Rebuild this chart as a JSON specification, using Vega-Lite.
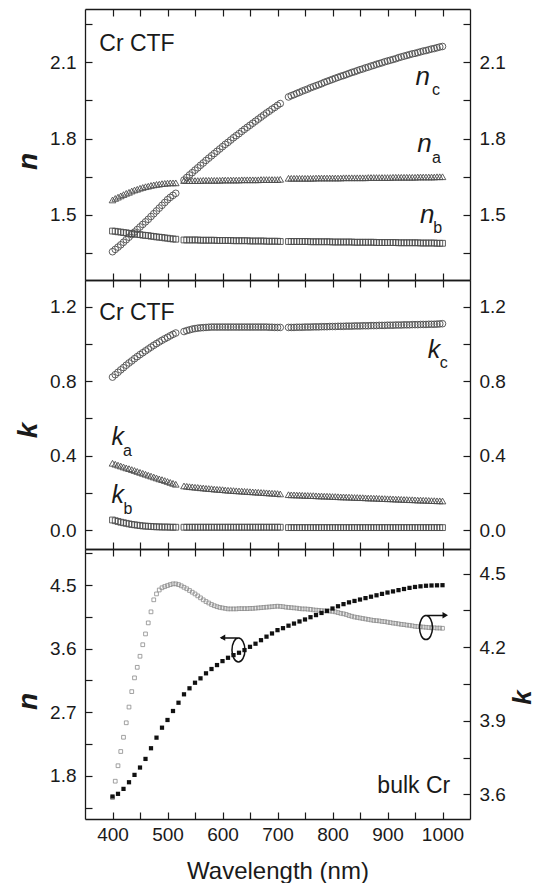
{
"$schema": "https://vega.github.io/schema/vega-lite/v6.json",
"background": "white",
"padding": {"left": 14, "top": 8, "right": 0, "bottom": 0},
"autosize": {"type": "pad"},
"spacing": 0,
"bounds": "flush",
"config": {
  "font": "Liberation Sans",
  "view": {"stroke": null},
  "axis": {"grid": false, "domainColor": "#1a1a1a", "domainWidth": 1.3, "tickColor": "#1a1a1a", "tickWidth": 1.2, "labelFont": "Liberation Sans", "labelFontSize": 19, "labelColor": "#1a1a1a", "labelOverlap": false, "labelFlush": false, "labelBound": false, "titleColor": "#1a1a1a", "titleFont": "Liberation Sans"},
  "text": {"font": "Liberation Sans", "color": "#1a1a1a"}
},
"datasets": {
"ctf": [
{"w":400,"nA":1.559,"nB":1.437,"nC":1.356,"kA":0.359,"kB":0.054,"kC":0.822},
{"w":405,"nA":1.565,"nB":1.436,"nC":1.365,"kA":0.354,"kB":0.050,"kC":0.835},
{"w":410,"nA":1.570,"nB":1.434,"nC":1.374,"kA":0.349,"kB":0.046,"kC":0.848},
{"w":415,"nA":1.575,"nB":1.433,"nC":1.383,"kA":0.344,"kB":0.042,"kC":0.861},
{"w":420,"nA":1.580,"nB":1.431,"nC":1.393,"kA":0.339,"kB":0.039,"kC":0.873},
{"w":425,"nA":1.585,"nB":1.430,"nC":1.403,"kA":0.334,"kB":0.036,"kC":0.886},
{"w":430,"nA":1.589,"nB":1.428,"nC":1.413,"kA":0.330,"kB":0.033,"kC":0.898},
{"w":435,"nA":1.594,"nB":1.427,"nC":1.423,"kA":0.325,"kB":0.030,"kC":0.909},
{"w":440,"nA":1.598,"nB":1.426,"nC":1.433,"kA":0.320,"kB":0.028,"kC":0.921},
{"w":445,"nA":1.601,"nB":1.424,"nC":1.443,"kA":0.315,"kB":0.026,"kC":0.932},
{"w":450,"nA":1.605,"nB":1.423,"nC":1.453,"kA":0.310,"kB":0.024,"kC":0.943},
{"w":455,"nA":1.608,"nB":1.421,"nC":1.463,"kA":0.305,"kB":0.022,"kC":0.953},
{"w":460,"nA":1.611,"nB":1.420,"nC":1.473,"kA":0.300,"kB":0.021,"kC":0.963},
{"w":465,"nA":1.613,"nB":1.419,"nC":1.483,"kA":0.295,"kB":0.020,"kC":0.973},
{"w":470,"nA":1.616,"nB":1.417,"nC":1.494,"kA":0.290,"kB":0.019,"kC":0.983},
{"w":475,"nA":1.618,"nB":1.416,"nC":1.505,"kA":0.285,"kB":0.018,"kC":0.993},
{"w":480,"nA":1.620,"nB":1.414,"nC":1.516,"kA":0.280,"kB":0.017,"kC":1.002},
{"w":485,"nA":1.621,"nB":1.413,"nC":1.527,"kA":0.275,"kB":0.017,"kC":1.011},
{"w":490,"nA":1.623,"nB":1.412,"nC":1.538,"kA":0.271,"kB":0.016,"kC":1.020},
{"w":495,"nA":1.624,"nB":1.410,"nC":1.549,"kA":0.266,"kB":0.016,"kC":1.028},
{"w":500,"nA":1.625,"nB":1.409,"nC":1.560,"kA":0.261,"kB":0.016,"kC":1.036},
{"w":505,"nA":1.626,"nB":1.407,"nC":1.569,"kA":0.256,"kB":0.015,"kC":1.044},
{"w":510,"nA":1.626,"nB":1.406,"nC":1.577,"kA":0.251,"kB":0.015,"kC":1.052},
{"w":515,"nA":1.626,"nB":1.405,"nC":1.585,"kA":0.246,"kB":0.015,"kC":1.059},
{"w":530,"nA":1.635,"nB":1.402,"nC":1.637,"kA":0.237,"kB":0.015,"kC":1.067},
{"w":535,"nA":1.635,"nB":1.402,"nC":1.647,"kA":0.235,"kB":0.015,"kC":1.072},
{"w":540,"nA":1.635,"nB":1.402,"nC":1.657,"kA":0.233,"kB":0.015,"kC":1.076},
{"w":545,"nA":1.635,"nB":1.402,"nC":1.666,"kA":0.232,"kB":0.015,"kC":1.080},
{"w":550,"nA":1.635,"nB":1.402,"nC":1.676,"kA":0.230,"kB":0.015,"kC":1.083},
{"w":555,"nA":1.635,"nB":1.402,"nC":1.685,"kA":0.229,"kB":0.015,"kC":1.085},
{"w":560,"nA":1.635,"nB":1.401,"nC":1.695,"kA":0.227,"kB":0.015,"kC":1.087},
{"w":565,"nA":1.636,"nB":1.401,"nC":1.704,"kA":0.226,"kB":0.015,"kC":1.088},
{"w":570,"nA":1.636,"nB":1.401,"nC":1.714,"kA":0.224,"kB":0.015,"kC":1.089},
{"w":575,"nA":1.636,"nB":1.401,"nC":1.723,"kA":0.223,"kB":0.015,"kC":1.090},
{"w":580,"nA":1.636,"nB":1.401,"nC":1.732,"kA":0.222,"kB":0.015,"kC":1.091},
{"w":585,"nA":1.636,"nB":1.401,"nC":1.741,"kA":0.220,"kB":0.015,"kC":1.091},
{"w":590,"nA":1.636,"nB":1.400,"nC":1.750,"kA":0.219,"kB":0.015,"kC":1.091},
{"w":595,"nA":1.636,"nB":1.400,"nC":1.759,"kA":0.218,"kB":0.015,"kC":1.091},
{"w":600,"nA":1.637,"nB":1.400,"nC":1.768,"kA":0.217,"kB":0.015,"kC":1.091},
{"w":605,"nA":1.637,"nB":1.400,"nC":1.777,"kA":0.215,"kB":0.015,"kC":1.091},
{"w":610,"nA":1.637,"nB":1.400,"nC":1.785,"kA":0.214,"kB":0.015,"kC":1.091},
{"w":615,"nA":1.637,"nB":1.400,"nC":1.794,"kA":0.213,"kB":0.015,"kC":1.091},
{"w":620,"nA":1.637,"nB":1.399,"nC":1.803,"kA":0.212,"kB":0.015,"kC":1.091},
{"w":625,"nA":1.637,"nB":1.399,"nC":1.811,"kA":0.211,"kB":0.015,"kC":1.091},
{"w":630,"nA":1.637,"nB":1.399,"nC":1.819,"kA":0.210,"kB":0.015,"kC":1.091},
{"w":635,"nA":1.638,"nB":1.399,"nC":1.828,"kA":0.209,"kB":0.015,"kC":1.091},
{"w":640,"nA":1.638,"nB":1.399,"nC":1.836,"kA":0.208,"kB":0.015,"kC":1.091},
{"w":645,"nA":1.638,"nB":1.399,"nC":1.844,"kA":0.207,"kB":0.015,"kC":1.091},
{"w":650,"nA":1.638,"nB":1.398,"nC":1.852,"kA":0.206,"kB":0.015,"kC":1.091},
{"w":655,"nA":1.638,"nB":1.398,"nC":1.860,"kA":0.205,"kB":0.015,"kC":1.091},
{"w":660,"nA":1.638,"nB":1.398,"nC":1.868,"kA":0.204,"kB":0.015,"kC":1.091},
{"w":665,"nA":1.638,"nB":1.398,"nC":1.876,"kA":0.203,"kB":0.015,"kC":1.091},
{"w":670,"nA":1.639,"nB":1.398,"nC":1.884,"kA":0.202,"kB":0.015,"kC":1.091},
{"w":675,"nA":1.639,"nB":1.398,"nC":1.892,"kA":0.201,"kB":0.015,"kC":1.091},
{"w":680,"nA":1.639,"nB":1.397,"nC":1.900,"kA":0.200,"kB":0.015,"kC":1.091},
{"w":685,"nA":1.639,"nB":1.397,"nC":1.907,"kA":0.199,"kB":0.015,"kC":1.090},
{"w":690,"nA":1.639,"nB":1.397,"nC":1.915,"kA":0.198,"kB":0.015,"kC":1.090},
{"w":695,"nA":1.639,"nB":1.397,"nC":1.922,"kA":0.197,"kB":0.015,"kC":1.089},
{"w":700,"nA":1.639,"nB":1.397,"nC":1.930,"kA":0.196,"kB":0.015,"kC":1.089},
{"w":705,"nA":1.640,"nB":1.396,"nC":1.937,"kA":0.194,"kB":0.015,"kC":1.089},
{"w":720,"nA":1.644,"nB":1.396,"nC":1.963,"kA":0.190,"kB":0.013,"kC":1.089},
{"w":725,"nA":1.644,"nB":1.396,"nC":1.968,"kA":0.189,"kB":0.013,"kC":1.089},
{"w":730,"nA":1.644,"nB":1.396,"nC":1.972,"kA":0.189,"kB":0.013,"kC":1.089},
{"w":735,"nA":1.644,"nB":1.396,"nC":1.977,"kA":0.188,"kB":0.013,"kC":1.090},
{"w":740,"nA":1.644,"nB":1.396,"nC":1.981,"kA":0.188,"kB":0.013,"kC":1.090},
{"w":745,"nA":1.644,"nB":1.396,"nC":1.986,"kA":0.187,"kB":0.013,"kC":1.090},
{"w":750,"nA":1.644,"nB":1.396,"nC":1.990,"kA":0.186,"kB":0.013,"kC":1.091},
{"w":755,"nA":1.644,"nB":1.396,"nC":1.994,"kA":0.186,"kB":0.013,"kC":1.091},
{"w":760,"nA":1.644,"nB":1.395,"nC":1.999,"kA":0.185,"kB":0.013,"kC":1.091},
{"w":765,"nA":1.644,"nB":1.395,"nC":2.003,"kA":0.185,"kB":0.013,"kC":1.092},
{"w":770,"nA":1.645,"nB":1.395,"nC":2.007,"kA":0.184,"kB":0.013,"kC":1.092},
{"w":775,"nA":1.645,"nB":1.395,"nC":2.011,"kA":0.183,"kB":0.013,"kC":1.092},
{"w":780,"nA":1.645,"nB":1.395,"nC":2.015,"kA":0.183,"kB":0.013,"kC":1.093},
{"w":785,"nA":1.645,"nB":1.395,"nC":2.020,"kA":0.182,"kB":0.013,"kC":1.093},
{"w":790,"nA":1.645,"nB":1.395,"nC":2.024,"kA":0.182,"kB":0.013,"kC":1.093},
{"w":795,"nA":1.645,"nB":1.395,"nC":2.028,"kA":0.181,"kB":0.013,"kC":1.094},
{"w":800,"nA":1.645,"nB":1.394,"nC":2.032,"kA":0.180,"kB":0.013,"kC":1.094},
{"w":805,"nA":1.645,"nB":1.394,"nC":2.036,"kA":0.180,"kB":0.013,"kC":1.094},
{"w":810,"nA":1.645,"nB":1.394,"nC":2.040,"kA":0.179,"kB":0.013,"kC":1.095},
{"w":815,"nA":1.645,"nB":1.394,"nC":2.044,"kA":0.178,"kB":0.013,"kC":1.095},
{"w":820,"nA":1.646,"nB":1.394,"nC":2.047,"kA":0.178,"kB":0.013,"kC":1.095},
{"w":825,"nA":1.646,"nB":1.394,"nC":2.051,"kA":0.177,"kB":0.013,"kC":1.096},
{"w":830,"nA":1.646,"nB":1.394,"nC":2.055,"kA":0.177,"kB":0.013,"kC":1.096},
{"w":835,"nA":1.646,"nB":1.394,"nC":2.059,"kA":0.176,"kB":0.013,"kC":1.096},
{"w":840,"nA":1.646,"nB":1.393,"nC":2.062,"kA":0.175,"kB":0.013,"kC":1.097},
{"w":845,"nA":1.646,"nB":1.393,"nC":2.066,"kA":0.175,"kB":0.013,"kC":1.097},
{"w":850,"nA":1.646,"nB":1.393,"nC":2.070,"kA":0.174,"kB":0.013,"kC":1.097},
{"w":855,"nA":1.646,"nB":1.393,"nC":2.073,"kA":0.174,"kB":0.013,"kC":1.098},
{"w":860,"nA":1.646,"nB":1.393,"nC":2.077,"kA":0.173,"kB":0.013,"kC":1.098},
{"w":865,"nA":1.647,"nB":1.393,"nC":2.080,"kA":0.172,"kB":0.013,"kC":1.098},
{"w":870,"nA":1.647,"nB":1.393,"nC":2.084,"kA":0.172,"kB":0.013,"kC":1.099},
{"w":875,"nA":1.647,"nB":1.393,"nC":2.087,"kA":0.171,"kB":0.013,"kC":1.099},
{"w":880,"nA":1.647,"nB":1.392,"nC":2.091,"kA":0.171,"kB":0.013,"kC":1.099},
{"w":885,"nA":1.647,"nB":1.392,"nC":2.094,"kA":0.170,"kB":0.013,"kC":1.100},
{"w":890,"nA":1.647,"nB":1.392,"nC":2.097,"kA":0.169,"kB":0.013,"kC":1.100},
{"w":895,"nA":1.647,"nB":1.392,"nC":2.101,"kA":0.169,"kB":0.013,"kC":1.100},
{"w":900,"nA":1.647,"nB":1.392,"nC":2.104,"kA":0.168,"kB":0.013,"kC":1.101},
{"w":905,"nA":1.647,"nB":1.392,"nC":2.107,"kA":0.168,"kB":0.013,"kC":1.101},
{"w":910,"nA":1.648,"nB":1.392,"nC":2.110,"kA":0.167,"kB":0.013,"kC":1.101},
{"w":915,"nA":1.648,"nB":1.392,"nC":2.113,"kA":0.166,"kB":0.013,"kC":1.102},
{"w":920,"nA":1.648,"nB":1.391,"nC":2.117,"kA":0.166,"kB":0.013,"kC":1.102},
{"w":925,"nA":1.648,"nB":1.391,"nC":2.120,"kA":0.165,"kB":0.013,"kC":1.102},
{"w":930,"nA":1.648,"nB":1.391,"nC":2.123,"kA":0.164,"kB":0.013,"kC":1.103},
{"w":935,"nA":1.648,"nB":1.391,"nC":2.126,"kA":0.164,"kB":0.013,"kC":1.103},
{"w":940,"nA":1.648,"nB":1.391,"nC":2.129,"kA":0.163,"kB":0.013,"kC":1.103},
{"w":945,"nA":1.648,"nB":1.391,"nC":2.132,"kA":0.163,"kB":0.013,"kC":1.104},
{"w":950,"nA":1.648,"nB":1.391,"nC":2.134,"kA":0.162,"kB":0.013,"kC":1.104},
{"w":955,"nA":1.649,"nB":1.391,"nC":2.137,"kA":0.161,"kB":0.013,"kC":1.104},
{"w":960,"nA":1.649,"nB":1.390,"nC":2.140,"kA":0.161,"kB":0.013,"kC":1.105},
{"w":965,"nA":1.649,"nB":1.390,"nC":2.143,"kA":0.160,"kB":0.013,"kC":1.105},
{"w":970,"nA":1.649,"nB":1.390,"nC":2.145,"kA":0.160,"kB":0.013,"kC":1.105},
{"w":975,"nA":1.649,"nB":1.390,"nC":2.148,"kA":0.159,"kB":0.013,"kC":1.106},
{"w":980,"nA":1.649,"nB":1.390,"nC":2.151,"kA":0.158,"kB":0.013,"kC":1.106},
{"w":985,"nA":1.649,"nB":1.390,"nC":2.153,"kA":0.158,"kB":0.013,"kC":1.106},
{"w":990,"nA":1.650,"nB":1.389,"nC":2.156,"kA":0.157,"kB":0.013,"kC":1.107},
{"w":995,"nA":1.650,"nB":1.389,"nC":2.159,"kA":0.157,"kB":0.013,"kC":1.108},
{"w":1000,"nA":1.650,"nB":1.389,"nC":2.161,"kA":0.156,"kB":0.013,"kC":1.109}
],
"bulk": [
{"w":400,"n":1.508,"k":3.587},{"w":405,"k":3.654},{"w":410,"n":1.546,"k":3.717},{"w":415,"k":3.775},{"w":420,"n":1.616,"k":3.833},{"w":425,"k":3.892},{"w":430,"n":1.71,"k":3.956},{"w":435,"k":4.019},{"w":440,"n":1.814,"k":4.075},{"w":445,"k":4.118},{"w":450,"n":1.918,"k":4.163},{"w":455,"k":4.21},{"w":460,"n":2.04,"k":4.254},{"w":465,"k":4.299},{"w":470,"n":2.191,"k":4.344},{"w":475,"k":4.393},{"w":480,"n":2.341,"k":4.417},{"w":485,"k":4.433},{"w":490,"n":2.482,"k":4.442},{"w":495,"k":4.447},{"w":500,"n":2.591,"k":4.451},{"w":505,"k":4.455},{"w":510,"n":2.718,"k":4.458},{"w":515,"k":4.458},{"w":520,"n":2.835,"k":4.455},{"w":525,"k":4.45},{"w":530,"n":2.954,"k":4.444},{"w":535,"k":4.438},{"w":540,"n":3.039,"k":4.431},{"w":545,"k":4.424},{"w":550,"n":3.118,"k":4.417},{"w":555,"k":4.409},{"w":560,"n":3.18,"k":4.401},{"w":565,"k":4.393},{"w":570,"n":3.251,"k":4.386},{"w":575,"k":4.38},{"w":580,"n":3.312,"k":4.374},{"w":585,"k":4.369},{"w":590,"n":3.368,"k":4.365},{"w":595,"k":4.362},{"w":600,"n":3.424,"k":4.36},{"w":605,"k":4.358},{"w":610,"n":3.471,"k":4.356},{"w":615,"k":4.356},{"w":620,"n":3.509,"k":4.356},{"w":625,"k":4.356},{"w":630,"n":3.542,"k":4.357},{"w":635,"k":4.357},{"w":640,"n":3.58,"k":4.357},{"w":645,"k":4.357},{"w":650,"n":3.626,"k":4.358},{"w":655,"k":4.358},{"w":660,"n":3.67,"k":4.359},{"w":665,"k":4.36},{"w":670,"n":3.72,"k":4.361},{"w":675,"k":4.362},{"w":680,"n":3.77,"k":4.363},{"w":685,"k":4.364},{"w":690,"n":3.815,"k":4.365},{"w":695,"k":4.366},{"w":700,"n":3.862,"k":4.367},{"w":705,"k":4.366},{"w":710,"n":3.89,"k":4.365},{"w":715,"k":4.363},{"w":720,"n":3.925,"k":4.362},{"w":725,"k":4.361},{"w":730,"n":3.955,"k":4.36},{"w":735,"k":4.359},{"w":740,"n":3.985,"k":4.357},{"w":745,"k":4.356},{"w":750,"n":4.013,"k":4.356},{"w":755,"k":4.355},{"w":760,"n":4.045,"k":4.354},{"w":765,"k":4.352},{"w":770,"n":4.075,"k":4.351},{"w":775,"k":4.35},{"w":780,"n":4.105,"k":4.349},{"w":785,"k":4.348},{"w":790,"n":4.135,"k":4.347},{"w":795,"k":4.347},{"w":800,"n":4.168,"k":4.346},{"w":805,"k":4.344},{"w":810,"n":4.2,"k":4.341},{"w":815,"k":4.338},{"w":820,"n":4.23,"k":4.336},{"w":825,"k":4.333},{"w":830,"n":4.255,"k":4.329},{"w":835,"k":4.326},{"w":840,"n":4.275,"k":4.323},{"w":845,"k":4.321},{"w":850,"n":4.295,"k":4.319},{"w":855,"k":4.317},{"w":860,"n":4.315,"k":4.315},{"w":865,"k":4.313},{"w":870,"n":4.335,"k":4.311},{"w":875,"k":4.309},{"w":880,"n":4.355,"k":4.308},{"w":885,"k":4.307},{"w":890,"n":4.375,"k":4.305},{"w":895,"k":4.304},{"w":900,"n":4.394,"k":4.302},{"w":905,"k":4.3},{"w":910,"n":4.41,"k":4.298},{"w":915,"k":4.297},{"w":920,"n":4.428,"k":4.295},{"w":925,"k":4.293},{"w":930,"n":4.444,"k":4.292},{"w":935,"k":4.29},{"w":940,"n":4.46,"k":4.289},{"w":945,"k":4.287},{"w":950,"n":4.473,"k":4.285},{"w":955,"k":4.284},{"w":960,"n":4.482,"k":4.283},{"w":965,"k":4.282},{"w":970,"n":4.49,"k":4.281},{"w":975,"k":4.28},{"w":980,"n":4.494,"k":4.279},{"w":985,"k":4.279},{"w":990,"n":4.496,"k":4.278},{"w":995,"k":4.278},{"w":1000,"n":4.498,"k":4.277}
]
},
"vconcat": [
{
  "width": 385, "height": 271,
  "resolve": {"axis": {"x": "independent", "y": "independent"}},
  "layer": [
    {"data": {"name": "ctf"},
     "mark": {"type": "point", "shape": "circle", "filled": false, "stroke": "#4d4d4d", "strokeWidth": 0.9, "size": 44, "opacity": 1},
     "encoding": {
       "x": {"field": "w", "type": "quantitative", "scale": {"domain": [350, 1050], "nice": false, "zero": false},
             "axis": {"orient": "bottom", "values": [400,450,500,550,600,650,700,750,800,850,900,950,1000], "labels": false, "title": null, "tickSize": -7,
                      "encoding": {"ticks": {"update": {"y2": {"signal": "datum.value % 100 === 0 ? -7 : -3.5"}}}}}},
       "y": {"field": "nC", "type": "quantitative", "scale": {"domain": [1.245, 2.308], "nice": false, "zero": false},
             "axis": {"orient": "left", "values": [1.35,1.5,1.65,1.8,1.95,2.1,2.25], "tickSize": -7, "labelPadding": 16,
                      "labelExpr": "round(datum.value*100) % 30 === 0 ? format(datum.value, '.1f') : ''",
                      "title": "n", "titleFontSize": 28, "titleFontWeight": "bold", "titleFontStyle": "italic", "titleAngle": -90, "titlePadding": 7, "titleY": 152,
                      "encoding": {"ticks": {"update": {"x2": {"signal": "round(datum.value*100) % 30 === 0 ? 7 : 3.5"}}}}}}
     }},
    {"data": {"name": "ctf"},
     "mark": {"type": "point", "shape": "triangle-up", "filled": false, "stroke": "#4d4d4d", "strokeWidth": 0.9, "size": 44, "opacity": 1},
     "encoding": {
       "x": {"field": "w", "type": "quantitative", "scale": {"domain": [350, 1050], "nice": false, "zero": false},
             "axis": {"orient": "top", "values": [400,450,500,550,600,650,700,750,800,850,900,950,1000], "labels": false, "title": null, "tickSize": -7,
                      "encoding": {"ticks": {"update": {"y2": {"signal": "datum.value % 100 === 0 ? 7 : 3.5"}}}}}},
       "y": {"field": "nA", "type": "quantitative", "scale": {"domain": [1.245, 2.308], "nice": false, "zero": false},
             "axis": {"orient": "right", "values": [1.35,1.5,1.65,1.8,1.95,2.1,2.25], "tickSize": -7, "labelPadding": 16, "title": null,
                      "labelExpr": "round(datum.value*100) % 30 === 0 ? format(datum.value, '.1f') : ''",
                      "encoding": {"ticks": {"update": {"x2": {"signal": "round(datum.value*100) % 30 === 0 ? -7 : -3.5"}}}}}}
     }},
    {"data": {"name": "ctf"},
     "mark": {"type": "point", "shape": "square", "filled": false, "stroke": "#4d4d4d", "strokeWidth": 0.9, "size": 34, "opacity": 1},
     "encoding": {
       "x": {"field": "w", "type": "quantitative", "scale": {"domain": [350, 1050], "nice": false, "zero": false}, "axis": null},
       "y": {"field": "nB", "type": "quantitative", "scale": {"domain": [1.245, 2.308], "nice": false, "zero": false}, "axis": null}
     }},
    {"data": {"values": [{"w": 376, "v": 2.144, "t": "Cr CTF"}]},
     "mark": {"type": "text", "align": "left", "baseline": "alphabetic", "fontSize": 23},
     "encoding": {
       "x": {"field": "w", "type": "quantitative", "scale": {"domain": [350, 1050], "nice": false, "zero": false}, "axis": null},
       "y": {"field": "v", "type": "quantitative", "scale": {"domain": [1.245, 2.308], "nice": false, "zero": false}, "axis": null},
       "text": {"field": "t"}
     }},
    {"data": {"values": [{"w": 951, "v": 2.010, "t": "n"}, {"w": 954, "v": 1.748, "t": "n"}, {"w": 959, "v": 1.470, "t": "n"}]},
     "mark": {"type": "text", "align": "left", "baseline": "alphabetic", "fontSize": 26, "fontStyle": "italic"},
     "encoding": {
       "x": {"field": "w", "type": "quantitative", "scale": {"domain": [350, 1050], "nice": false, "zero": false}, "axis": null},
       "y": {"field": "v", "type": "quantitative", "scale": {"domain": [1.245, 2.308], "nice": false, "zero": false}, "axis": null},
       "text": {"field": "t"}
     }},
    {"data": {"values": [{"w": 981, "v": 1.971, "t": "c"}, {"w": 981, "v": 1.705, "t": "a"}, {"w": 983, "v": 1.431, "t": "b"}]},
     "mark": {"type": "text", "align": "left", "baseline": "alphabetic", "fontSize": 16},
     "encoding": {
       "x": {"field": "w", "type": "quantitative", "scale": {"domain": [350, 1050], "nice": false, "zero": false}, "axis": null},
       "y": {"field": "v", "type": "quantitative", "scale": {"domain": [1.245, 2.308], "nice": false, "zero": false}, "axis": null},
       "text": {"field": "t"}
     }}
  ]
},
{
  "width": 385, "height": 269,
  "resolve": {"axis": {"x": "independent", "y": "independent"}},
  "layer": [
    {"data": {"name": "ctf"},
     "mark": {"type": "point", "shape": "circle", "filled": false, "stroke": "#4d4d4d", "strokeWidth": 0.9, "size": 44, "opacity": 1},
     "encoding": {
       "x": {"field": "w", "type": "quantitative", "scale": {"domain": [350, 1050], "nice": false, "zero": false},
             "axis": {"orient": "bottom", "values": [400,450,500,550,600,650,700,750,800,850,900,950,1000], "labels": false, "title": null, "tickSize": -7,
                      "encoding": {"ticks": {"update": {"y2": {"signal": "datum.value % 100 === 0 ? -7 : -3.5"}}}}}},
       "y": {"field": "kC", "type": "quantitative", "scale": {"domain": [-0.102, 1.344], "nice": false, "zero": false},
             "axis": {"orient": "left", "values": [0,0.2,0.4,0.6,0.8,1.0,1.2], "tickSize": -7, "labelPadding": 16,
                      "labelExpr": "round(datum.value*10) % 4 === 0 ? format(datum.value, '.1f') : ''",
                      "title": "k", "titleFontSize": 28, "titleFontWeight": "bold", "titleFontStyle": "italic", "titleAngle": -90, "titlePadding": 7, "titleY": 150,
                      "encoding": {"ticks": {"update": {"x2": {"signal": "round(datum.value*10) % 4 === 0 ? 7 : 3.5"}}}}}}
     }},
    {"data": {"name": "ctf"},
     "mark": {"type": "point", "shape": "triangle-up", "filled": false, "stroke": "#4d4d4d", "strokeWidth": 0.9, "size": 44, "opacity": 1},
     "encoding": {
       "x": {"field": "w", "type": "quantitative", "scale": {"domain": [350, 1050], "nice": false, "zero": false},
             "axis": {"orient": "top", "values": [400,450,500,550,600,650,700,750,800,850,900,950,1000], "labels": false, "title": null, "tickSize": -7,
                      "encoding": {"ticks": {"update": {"y2": {"signal": "datum.value % 100 === 0 ? 7 : 3.5"}}}}}},
       "y": {"field": "kA", "type": "quantitative", "scale": {"domain": [-0.102, 1.344], "nice": false, "zero": false},
             "axis": {"orient": "right", "values": [0,0.2,0.4,0.6,0.8,1.0,1.2], "tickSize": -7, "labelPadding": 16, "title": null,
                      "labelExpr": "round(datum.value*10) % 4 === 0 ? format(datum.value, '.1f') : ''",
                      "encoding": {"ticks": {"update": {"x2": {"signal": "round(datum.value*10) % 4 === 0 ? -7 : -3.5"}}}}}}
     }},
    {"data": {"name": "ctf"},
     "mark": {"type": "point", "shape": "square", "filled": false, "stroke": "#4d4d4d", "strokeWidth": 0.9, "size": 34, "opacity": 1},
     "encoding": {
       "x": {"field": "w", "type": "quantitative", "scale": {"domain": [350, 1050], "nice": false, "zero": false}, "axis": null},
       "y": {"field": "kB", "type": "quantitative", "scale": {"domain": [-0.102, 1.344], "nice": false, "zero": false}, "axis": null}
     }},
    {"data": {"values": [{"w": 376, "v": 1.129, "t": "Cr CTF"}]},
     "mark": {"type": "text", "align": "left", "baseline": "alphabetic", "fontSize": 23},
     "encoding": {
       "x": {"field": "w", "type": "quantitative", "scale": {"domain": [350, 1050], "nice": false, "zero": false}, "axis": null},
       "y": {"field": "v", "type": "quantitative", "scale": {"domain": [-0.102, 1.344], "nice": false, "zero": false}, "axis": null},
       "text": {"field": "t"}
     }},
    {"data": {"values": [{"w": 973, "v": 0.923, "t": "k"}, {"w": 398, "v": 0.457, "t": "k"}, {"w": 398, "v": 0.143, "t": "k"}]},
     "mark": {"type": "text", "align": "left", "baseline": "alphabetic", "fontSize": 25, "fontStyle": "italic"},
     "encoding": {
       "x": {"field": "w", "type": "quantitative", "scale": {"domain": [350, 1050], "nice": false, "zero": false}, "axis": null},
       "y": {"field": "v", "type": "quantitative", "scale": {"domain": [-0.102, 1.344], "nice": false, "zero": false}, "axis": null},
       "text": {"field": "t"}
     }},
    {"data": {"values": [{"w": 995, "v": 0.869, "t": "c"}, {"w": 419, "v": 0.400, "t": "a"}, {"w": 420, "v": 0.086, "t": "b"}]},
     "mark": {"type": "text", "align": "left", "baseline": "alphabetic", "fontSize": 16},
     "encoding": {
       "x": {"field": "w", "type": "quantitative", "scale": {"domain": [350, 1050], "nice": false, "zero": false}, "axis": null},
       "y": {"field": "v", "type": "quantitative", "scale": {"domain": [-0.102, 1.344], "nice": false, "zero": false}, "axis": null},
       "text": {"field": "t"}
     }}
  ]
},
{
  "width": 385, "height": 270,
  "resolve": {"scale": {"y": "independent"}, "axis": {"x": "independent", "y": "independent"}},
  "layer": [
    {"data": {"name": "bulk"},
     "mark": {"type": "point", "shape": "square", "filled": false, "stroke": "#8a8a8a", "strokeWidth": 0.8, "size": 14, "opacity": 1},
     "encoding": {
       "x": {"field": "w", "type": "quantitative", "scale": {"domain": [350, 1050], "nice": false, "zero": false},
             "axis": {"orient": "top", "values": [400,450,500,550,600,650,700,750,800,850,900,950,1000], "labels": false, "title": null, "tickSize": -7,
                      "encoding": {"ticks": {"update": {"y2": {"signal": "datum.value % 100 === 0 ? 7 : 3.5"}}}}}},
       "y": {"field": "k", "type": "quantitative", "scale": {"domain": [3.5, 4.6], "nice": false, "zero": false},
             "axis": {"orient": "right", "values": [3.6,3.75,3.9,4.05,4.2,4.35,4.5], "tickSize": -7, "labelPadding": 16,
                      "labelExpr": "round(datum.value*100) % 30 === 0 ? format(datum.value, '.1f') : ''",
                      "title": "k", "titleFontSize": 26, "titleFontWeight": "bold", "titleFontStyle": "italic", "titleAngle": -90, "titleBaseline": "top", "titlePadding": 4, "titleY": 148,
                      "encoding": {"ticks": {"update": {"x2": {"signal": "round(datum.value*100) % 30 === 0 ? -7 : -3.5"}}}}}}
     }},
    {"data": {"name": "bulk"},
     "mark": {"type": "point", "shape": "square", "filled": true, "color": "#111111", "size": 18, "opacity": 1},
     "encoding": {
       "x": {"field": "w", "type": "quantitative", "scale": {"domain": [350, 1050], "nice": false, "zero": false},
             "axis": {"orient": "bottom", "values": [400,450,500,550,600,650,700,750,800,850,900,950,1000], "tickSize": -7, "labelPadding": 13, "format": "d",
                      "labelExpr": "datum.value % 100 === 0 ? datum.label : ''",
                      "title": "Wavelength (nm)", "titleFontSize": 24, "titleFontWeight": "normal", "titlePadding": 15,
                      "encoding": {"ticks": {"update": {"y2": {"signal": "datum.value % 100 === 0 ? -7 : -3.5"}}}}}},
       "y": {"field": "n", "type": "quantitative", "scale": {"domain": [1.19, 5.01], "nice": false, "zero": false},
             "axis": {"orient": "left", "values": [1.35,1.8,2.25,2.7,3.15,3.6,4.05,4.5,4.95], "tickSize": -7, "labelPadding": 16,
                      "labelExpr": "round(datum.value*100) % 90 === 0 ? format(datum.value, '.1f') : ''",
                      "title": "n", "titleFontSize": 28, "titleFontWeight": "bold", "titleFontStyle": "italic", "titleAngle": -90, "titlePadding": 7, "titleY": 152,
                      "encoding": {"ticks": {"update": {"x2": {"signal": "round(datum.value*100) % 90 === 0 ? 7 : 3.5"}}}}}}
     }},
    {"data": {"values": [{"w": 1014, "v": 1.555, "t": "bulk Cr"}]},
     "mark": {"type": "text", "align": "right", "baseline": "alphabetic", "fontSize": 23},
     "encoding": {
       "x": {"field": "w", "type": "quantitative", "scale": {"domain": [350, 1050], "nice": false, "zero": false}, "axis": null},
       "y": {"field": "v", "type": "quantitative", "scale": {"domain": [1.19, 5.01], "nice": false, "zero": false}, "axis": null},
       "text": {"field": "t"}
     }},
    {"data": {"values": [{"w": 629, "v": 3.581}]},
     "mark": {"type": "point", "shape": "M0,-1C0.3,-1 0.54,-0.55 0.54,0C0.54,0.55 0.3,1 0,1C-0.3,1 -0.54,0.55 -0.54,0C-0.54,-0.55 -0.3,-1 0,-1ZM0.1,-1L-1.45,-1", "filled": false, "stroke": "#111111", "strokeWidth": 1.5, "size": 576, "opacity": 1},
     "encoding": {
       "x": {"field": "w", "type": "quantitative", "scale": {"domain": [350, 1050], "nice": false, "zero": false}, "axis": null},
       "y": {"field": "v", "type": "quantitative", "scale": {"domain": [1.19, 5.01], "nice": false, "zero": false}, "axis": null}
     }},
    {"data": {"values": [{"w": 600, "v": 3.755}]},
     "mark": {"type": "point", "shape": "triangle-left", "filled": true, "color": "#111111", "size": 40, "opacity": 1},
     "encoding": {
       "x": {"field": "w", "type": "quantitative", "scale": {"domain": [350, 1050], "nice": false, "zero": false}, "axis": null},
       "y": {"field": "v", "type": "quantitative", "scale": {"domain": [1.19, 5.01], "nice": false, "zero": false}, "axis": null}
     }},
    {"data": {"values": [{"w": 970, "v": 4.280}]},
     "mark": {"type": "point", "shape": "M0,-1C0.3,-1 0.54,-0.55 0.54,0C0.54,0.55 0.3,1 0,1C-0.3,1 -0.54,0.55 -0.54,0C-0.54,-0.55 -0.3,-1 0,-1ZM-0.1,-1L1.45,-1", "filled": false, "stroke": "#111111", "strokeWidth": 1.5, "size": 576, "opacity": 1},
     "encoding": {
       "x": {"field": "w", "type": "quantitative", "scale": {"domain": [350, 1050], "nice": false, "zero": false}, "axis": null},
       "y": {"field": "v", "type": "quantitative", "scale": {"domain": [3.5, 4.6], "nice": false, "zero": false}, "axis": null}
     }},
    {"data": {"values": [{"w": 1005, "v": 4.330}]},
     "mark": {"type": "point", "shape": "triangle-right", "filled": true, "color": "#111111", "size": 40, "opacity": 1},
     "encoding": {
       "x": {"field": "w", "type": "quantitative", "scale": {"domain": [350, 1050], "nice": false, "zero": false}, "axis": null},
       "y": {"field": "v", "type": "quantitative", "scale": {"domain": [3.5, 4.6], "nice": false, "zero": false}, "axis": null}
     }}
  ]
}
]
}
